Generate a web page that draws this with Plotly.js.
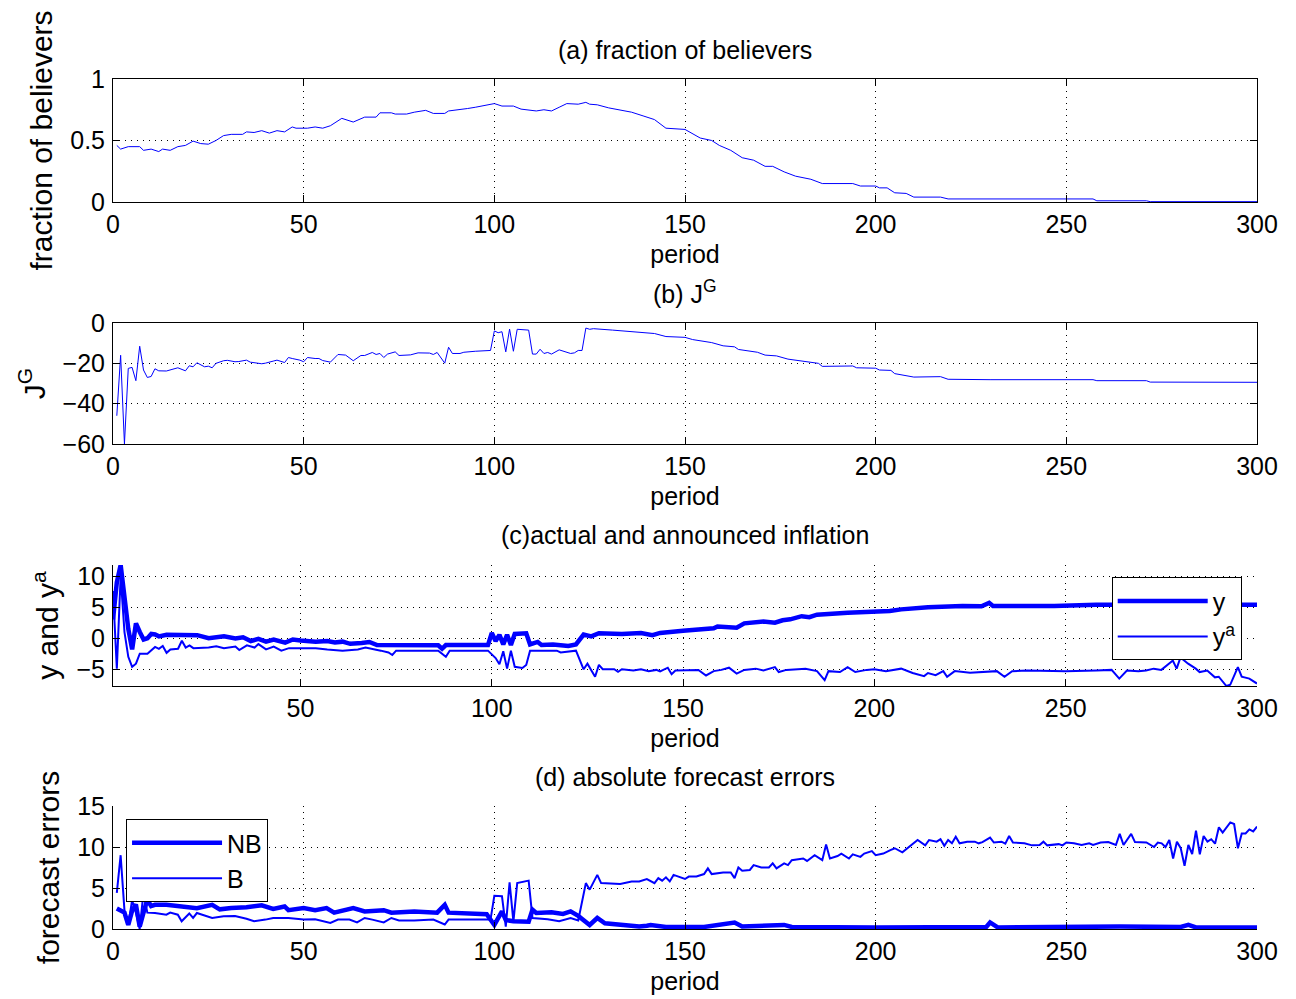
<!DOCTYPE html>
<html>
<head>
<meta charset="utf-8">
<script src="https://cdn.plot.ly/plotly-3.0.1.min.js"></script>
<style>html,body{margin:0;padding:0;background:#fff;}#chart{width:1296px;height:999px;}</style>
</head>
<body>
<div id="chart"></div>
<script>
// ---------------- data ----------------
const periodTicks = [0, 50, 100, 150, 200, 250, 300];
const periodTicksC = [50, 100, 150, 200, 250, 300];

// (a) fraction of believers
const fracT = [1,2,4,7,8,10,12,13,15,17,19,21,23,25,27,29,31,34,35,37,39,41,43,45,47,48,51,53,55,57,60,63,66,69,70,73,74,77,79,82,84,87,88,91,93,95,97,100,102,105,107,111,113,115,117,119,122,124,125,127,130,133,136,139,142,145,150,154,157,159,162,165,168,171,173,176,179,183,186,194,196,200,201,203,205,208,210,217,219,257,258,271,272,300];
const fracV = [.46,.43,.45,.45,.42,.43,.41,.43,.42,.45,.46,.495,.475,.47,.50,.54,.55,.55,.57,.565,.58,.56,.58,.57,.61,.60,.60,.61,.60,.62,.68,.65,.69,.69,.725,.725,.715,.715,.73,.745,.72,.72,.74,.75,.76,.77,.78,.80,.78,.78,.755,.74,.75,.74,.77,.80,.795,.81,.795,.79,.765,.75,.73,.70,.67,.60,.59,.52,.50,.46,.42,.36,.34,.29,.29,.245,.21,.185,.15,.15,.13,.13,.115,.115,.075,.07,.04,.04,.025,.025,.01,.01,.003,.003];

// (b) J^G
const jgT = [1,2,3,4,5,6,7,8,9,10,11,12,14,16,17,19,20,21,22,24,25,26,27,29,30,32,33,35,36,39,40,42,43,45,46,47,49,50,51,53,54,55,57,59,61,63,65,66,68,69,70,71,72,74,75,78,80,83,84,85,87,88,89,91,92,95,99,100,101,102,103,104,105,106,109,110,111,112,113,114,115,117,120,121,122,123,124,125,126,131,135,138,142,145,150,152,157,160,163,164,169,171,174,177,181,185,186,194,195,200,201,204,205,210,217,219,230,257,258,271,272,300];
const jgV = [-46,-16,-60,-22.5,-22,-28.6,-11.5,-23.3,-27,-26.5,-22.7,-23.7,-23.8,-22.7,-22.2,-23.7,-21.2,-21.7,-19.7,-21.7,-21.4,-22.2,-20,-18.7,-18.5,-19.2,-19.1,-18.4,-19.4,-20.2,-19.9,-18.9,-18.4,-19.6,-17.1,-17.6,-18.4,-19.2,-17.1,-17.6,-17.6,-18.6,-19.4,-15.6,-15.9,-18.7,-16.1,-16.1,-14.6,-15.6,-15.1,-17.1,-15.4,-14.3,-16.1,-15.8,-14.8,-14.9,-15.6,-14.6,-19.9,-12,-15.1,-15.1,-14.5,-14,-13.6,-3.9,-4.8,-4.3,-14.3,-3,-14,-3.1,-3.5,-15.4,-15.4,-13,-15.1,-14.6,-15.4,-13.3,-15.1,-14.8,-13.6,-13.6,-2.5,-3.1,-2.8,-3.5,-4.1,-4.6,-5.2,-6.7,-7.1,-8.2,-9.7,-11.3,-11.8,-13.1,-14.5,-15.9,-16.3,-17.9,-19,-20,-21.5,-21.3,-22.2,-22.4,-23.3,-23.5,-25.1,-26.8,-26.6,-27.9,-28.1,-28.1,-28.6,-28.6,-29.3,-29.4];

// (c) actual inflation y
const yT = [1,2,3,4,5,6,7,8,9,10,11,12,13,15,18,21,23,26,28,30,33,35,37,39,41,43,46,48,50,54,57,59,61,63,66,68,70,80,86,87,88,99,100,101,102,103,104,105,106,109,110,112,113,116,120,122,124,126,128,134,139,142,144,150,155,158,159,160,164,166,171,174,176,178,181,183,185,193,200,204,207,214,223,228,230,231,247,258,300];
const yV = [3,9,11.8,6,1.5,-1.8,2.4,1.0,-0.2,0,0.7,0.6,0.3,0.55,0.5,0.55,0.5,0,0.15,0.3,-0.05,0.15,-0.45,-0.1,-0.55,-0.2,-0.7,-0.2,-0.35,-0.55,-0.45,-0.7,-0.55,-0.9,-0.75,-0.6,-1.1,-1.1,-1.15,-1.7,-1.1,-1.1,0.85,-0.45,0.55,-1.0,0.55,-1.1,0.7,0.8,-1.0,-0.6,-1.1,-1.0,-1.25,-1.0,0.6,0.3,0.8,0.7,0.85,0.5,0.85,1.2,1.5,1.6,1.9,1.85,1.7,2.4,2.7,2.5,2.9,3.05,3.55,3.4,3.8,4.1,4.2,4.4,4.65,5.0,5.2,5.15,5.7,5.2,5.2,5.4,5.4];

// (c) announced inflation y^a
const yaT = [1,2,3,4,5,6,7,8,10,12,13,14,15,16,18,19,20,21,22,26,28,30,33,34,36,38,39,41,43,45,47,54,57,61,65,67,71,73,74,75,86,88,89,99,101,102,103,104,105,106,108,109,110,117,118,122,124,125,127,128,129,132,133,134,137,139,141,143,144,146,147,148,154,156,158,160,162,164,166,169,171,174,175,177,182,185,187,188,191,193,195,198,200,203,207,210,213,214,216,218,219,221,225,232,234,236,240,245,250,258,262,264,266,269,271,273,275,278,279,280,282,284,285,287,289,290,292,293,295,296,298,300];
const yaV = [7.6,-4.9,10,1,-3,-4.6,-4.1,-2.5,-2.5,-1.4,-1.7,-1.25,-2.35,-1.8,-1.7,-0.4,-1.5,-1.15,-1.6,-1.5,-1.3,-1.6,-1.35,-1.9,-1.15,-1.5,-0.95,-1.8,-1.35,-2,-1.6,-1.6,-1.8,-2,-1.8,-1.5,-2,-2.3,-2.7,-2,-2,-3,-2,-2,-3.2,-4.2,-2.1,-4.9,-2,-4.6,-4.8,-4.3,-2,-2,-2.3,-2,-5,-4.1,-6.2,-4.3,-5,-5,-5.4,-5,-5.2,-5.0,-5.3,-5.1,-5.35,-4.75,-5.8,-5.2,-5.1,-6.0,-5.3,-5.1,-4.75,-5.7,-5.1,-4.9,-5.2,-4.65,-5.45,-5.1,-4.9,-5.3,-6.75,-5.3,-5.45,-4.65,-5.45,-5.1,-5.0,-5.3,-4.9,-5.6,-6.1,-5.6,-5.95,-5.3,-6.2,-5.3,-5.55,-5.3,-6.2,-5.3,-5.2,-5.3,-5.3,-5.2,-5.1,-6.5,-5.2,-5.3,-5.2,-4.9,-5.1,-3.6,-4.9,-3.1,-4.1,-4.9,-5.45,-5.2,-6.3,-6.2,-7.7,-7.5,-4.65,-6.2,-6.5,-7.3];

// (d) absolute forecast errors, non-believers (NB)
const nbT = [1,2,3,4,5,6,7,8,9,10,11,14,17,22,26,28,31,35,39,42,45,46,50,53,56,58,63,66,71,73,79,85,87,88,98,100,102,103,105,109,110,111,115,118,120,122,125,127,129,133,138,140,141,145,150,155,163,165,176,178,200,229,230,232,264,280,282,284,300];
const nbV = [2.5,2.2,2.0,0.5,2.2,3.0,0.3,2.0,3.6,2.8,2.95,2.95,2.75,2.55,2.95,2.4,2.55,2.65,2.9,2.45,2.75,2.3,2.55,2.3,2.55,2.0,2.55,2.15,2.3,2.0,2.15,2.0,2.95,2.0,1.8,0.5,2.15,1.1,0.95,0.9,2.35,1.95,2.05,1.85,2.15,1.6,0.5,1.35,0.7,0.5,0.3,0.4,0.5,0.25,0.2,0.25,0.8,0.3,0.5,0.25,0.2,0.25,0.8,0.2,0.3,0.25,0.5,0.2,0.2];

// (d) absolute forecast errors, believers (B)
const bT = [1,2,3,4,5,6,7,8,9,11,14,15,17,18,20,21,22,25,26,29,32,35,37,40,42,46,50,53,57,59,62,64,66,68,71,73,75,79,84,87,88,99,100,102,103,104,105,106,109,110,114,117,120,122,124,125,127,128,133,136,138,140,142,143,144,145,146,147,150,151,153,155,156,157,160,162,163,164,165,167,168,170,172,173,174,176,177,178,181,182,184,186,187,188,190,191,193,194,196,197,199,200,202,204,205,207,209,211,213,214,216,217,218,219,220,221,222,224,226,227,228,230,231,233,234,235,236,239,241,243,244,245,248,249,250,252,254,256,257,259,261,263,264,265,267,268,271,273,274,275,276,277,278,279,280,281,282,283,284,285,286,287,288,289,290,291,293,294,295,296,297,298,299,300];
const bV = [4.4,9.0,2.3,0.5,3.5,2.0,0,4.5,2.0,1.95,1.75,2.0,1.75,0.95,1.9,1.35,1.95,1.55,1.35,1.55,1.6,1.25,0.95,1.15,1.35,1.35,1.15,1.2,0.75,1.15,1.15,0.8,1.35,1.15,0.8,1.35,1.05,1.05,1.15,0.55,1.15,1.15,4.05,4.0,0.3,5.7,0.9,5.6,5.9,1.35,1.2,0.95,1.35,1.05,5.6,4.8,6.6,5.6,5.5,5.8,5.8,6.1,5.6,6.2,5.9,6.3,5.8,6.6,6.1,6.4,6.4,6.7,7.4,6.7,6.9,6.9,6.2,7.5,7.1,7.2,7.8,7.5,7.5,8.0,7.4,8.0,7.8,8.4,8.6,8.3,9.0,8.4,10.3,8.6,8.9,9.2,8.6,9.1,8.8,9.2,9.5,9.0,9.2,9.65,9.85,9.35,10.05,10.85,10.2,10.85,10.65,10.95,10.15,10.85,10.45,11.25,10.45,10.65,10.65,10.45,10.6,11.15,10.55,10.65,10.4,11.35,10.55,10.45,10.2,10.25,10.65,10.2,10.35,10.2,10.55,10.45,10.25,10.45,10.25,10.55,10.6,10.25,11.6,10.25,11.6,10.6,10.55,10.0,10.55,10.45,10.0,10.85,8.6,10.65,9.85,7.7,10.25,9.15,12.0,9.1,11.35,10.65,10.95,10.4,12.4,11.75,13.0,12.8,9.85,11.65,11.65,12.15,11.9,12.5];

// ---------------- styling ----------------
const FONT = {family: '"Liberation Sans", Arial, Helvetica, sans-serif', size: 25, color: '#000'};
const YTITLE_FONT = {family: '"Liberation Sans", Arial, Helvetica, sans-serif', size: 30, color: '#000'};
const BLUE = 'rgb(0,0,255)';

function xAxis(anchor, range, ticks, boxed) {
  return {
    anchor: anchor, range: range, tickmode: 'array', tickvals: ticks,
    ticks: 'inside', ticklen: 7, tickcolor: '#000', tickwidth: 1,
    showline: true, linecolor: '#000', linewidth: 1, mirror: boxed ? 'ticks' : false,
    showgrid: true, gridcolor: '#000', gridwidth: 1, griddash: '1px,5px',
    zeroline: false, tickfont: FONT, ticklabelstandoff: 0,
    title: {text: 'period', font: FONT, standoff: 8}
  };
}
function yAxis(anchor, domain, range, ticks, title, boxed) {
  return {
    anchor: anchor, domain: domain, range: range, tickmode: 'array', tickvals: ticks,
    ticks: 'inside', ticklen: 7, tickcolor: '#000', tickwidth: 1,
    showline: true, linecolor: '#000', linewidth: 1, mirror: boxed ? 'ticks' : false,
    showgrid: true, gridcolor: '#000', gridwidth: 1, griddash: '1px,5px',
    zeroline: false, tickfont: FONT, ticklabelstandoff: 2,
    title: {text: title, font: YTITLE_FONT, standoff: 8}
  };
}

const traces = [
  {x: fracT, y: fracV, xaxis: 'x', yaxis: 'y', mode: 'lines', line: {color: BLUE, width: 1}, showlegend: false},
  {x: jgT, y: jgV, xaxis: 'x2', yaxis: 'y2', mode: 'lines', line: {color: BLUE, width: 1}, showlegend: false},
  {x: yT, y: yV, xaxis: 'x3', yaxis: 'y3', mode: 'lines', name: 'y', line: {color: BLUE, width: 4.5}, legend: 'legend'},
  {x: yaT, y: yaV, xaxis: 'x3', yaxis: 'y3', mode: 'lines', name: 'y<sup>a</sup>', line: {color: BLUE, width: 2}, legend: 'legend'},
  {x: nbT, y: nbV, xaxis: 'x4', yaxis: 'y4', mode: 'lines', name: 'NB', line: {color: BLUE, width: 4.5}, legend: 'legend2'},
  {x: bT, y: bV, xaxis: 'x4', yaxis: 'y4', mode: 'lines', name: 'B', line: {color: BLUE, width: 2}, legend: 'legend2'}
];

const legendStyle = {
  font: FONT, bgcolor: '#fff', bordercolor: '#000', borderwidth: 1,
  itemwidth: 90, tracegroupgap: 0, itemclick: false, itemdoubleclick: false
};

const layout = {
  width: 1296, height: 999,
  margin: {l: 113, r: 39, t: 20, b: 20},
  paper_bgcolor: '#fff', plot_bgcolor: '#fff',
  font: FONT,
  showlegend: true,
  xaxis: xAxis('y', [0, 300], periodTicks, true),
  yaxis: yAxis('x', [0.8102, 0.9385], [0, 1], [0, 0.5, 1], 'fraction of believers', true),
  xaxis2: xAxis('y2', [0, 300], periodTicks, true),
  yaxis2: yAxis('x2', [0.5579, 0.6840], [-60, 0], [-60, -40, -20, 0], 'J<sup>G</sup>', true),
  xaxis3: xAxis('y3', [1, 300], periodTicksC, false),
  yaxis3: yAxis('x3', [0.3055, 0.4317], [-7.7, 11.8], [-5, 0, 5, 10], 'y and y<sup>a</sup>', false),
  xaxis4: xAxis('y4', [0, 300], periodTicks, false),
  yaxis4: yAxis('x4', [0.0521, 0.1804], [0, 15], [0, 5, 10, 15], 'forecast errors', false),
  legend: Object.assign({x: 0.873, y: 0.419, xanchor: 'left', yanchor: 'top'}, legendStyle),
  legend2: Object.assign({x: 0.0114, y: 0.1668, xanchor: 'left', yanchor: 'top'}, legendStyle),
  annotations: [
    {text: '(a) fraction of believers', x: 0.5, y: 0.9687},
    {text: '(b) J<sup>G</sup>', x: 0.5, y: 0.7164},
    {text: '(c)actual and announced inflation', x: 0.5, y: 0.4630},
    {text: '(d) absolute forecast errors', x: 0.5, y: 0.2106}
  ].map(a => Object.assign({xref: 'paper', yref: 'paper', xanchor: 'center', yanchor: 'middle', showarrow: false, font: FONT}, a))
};

Plotly.newPlot('chart', traces, layout, {staticPlot: true, displayModeBar: false});
</script>
</body>
</html>
